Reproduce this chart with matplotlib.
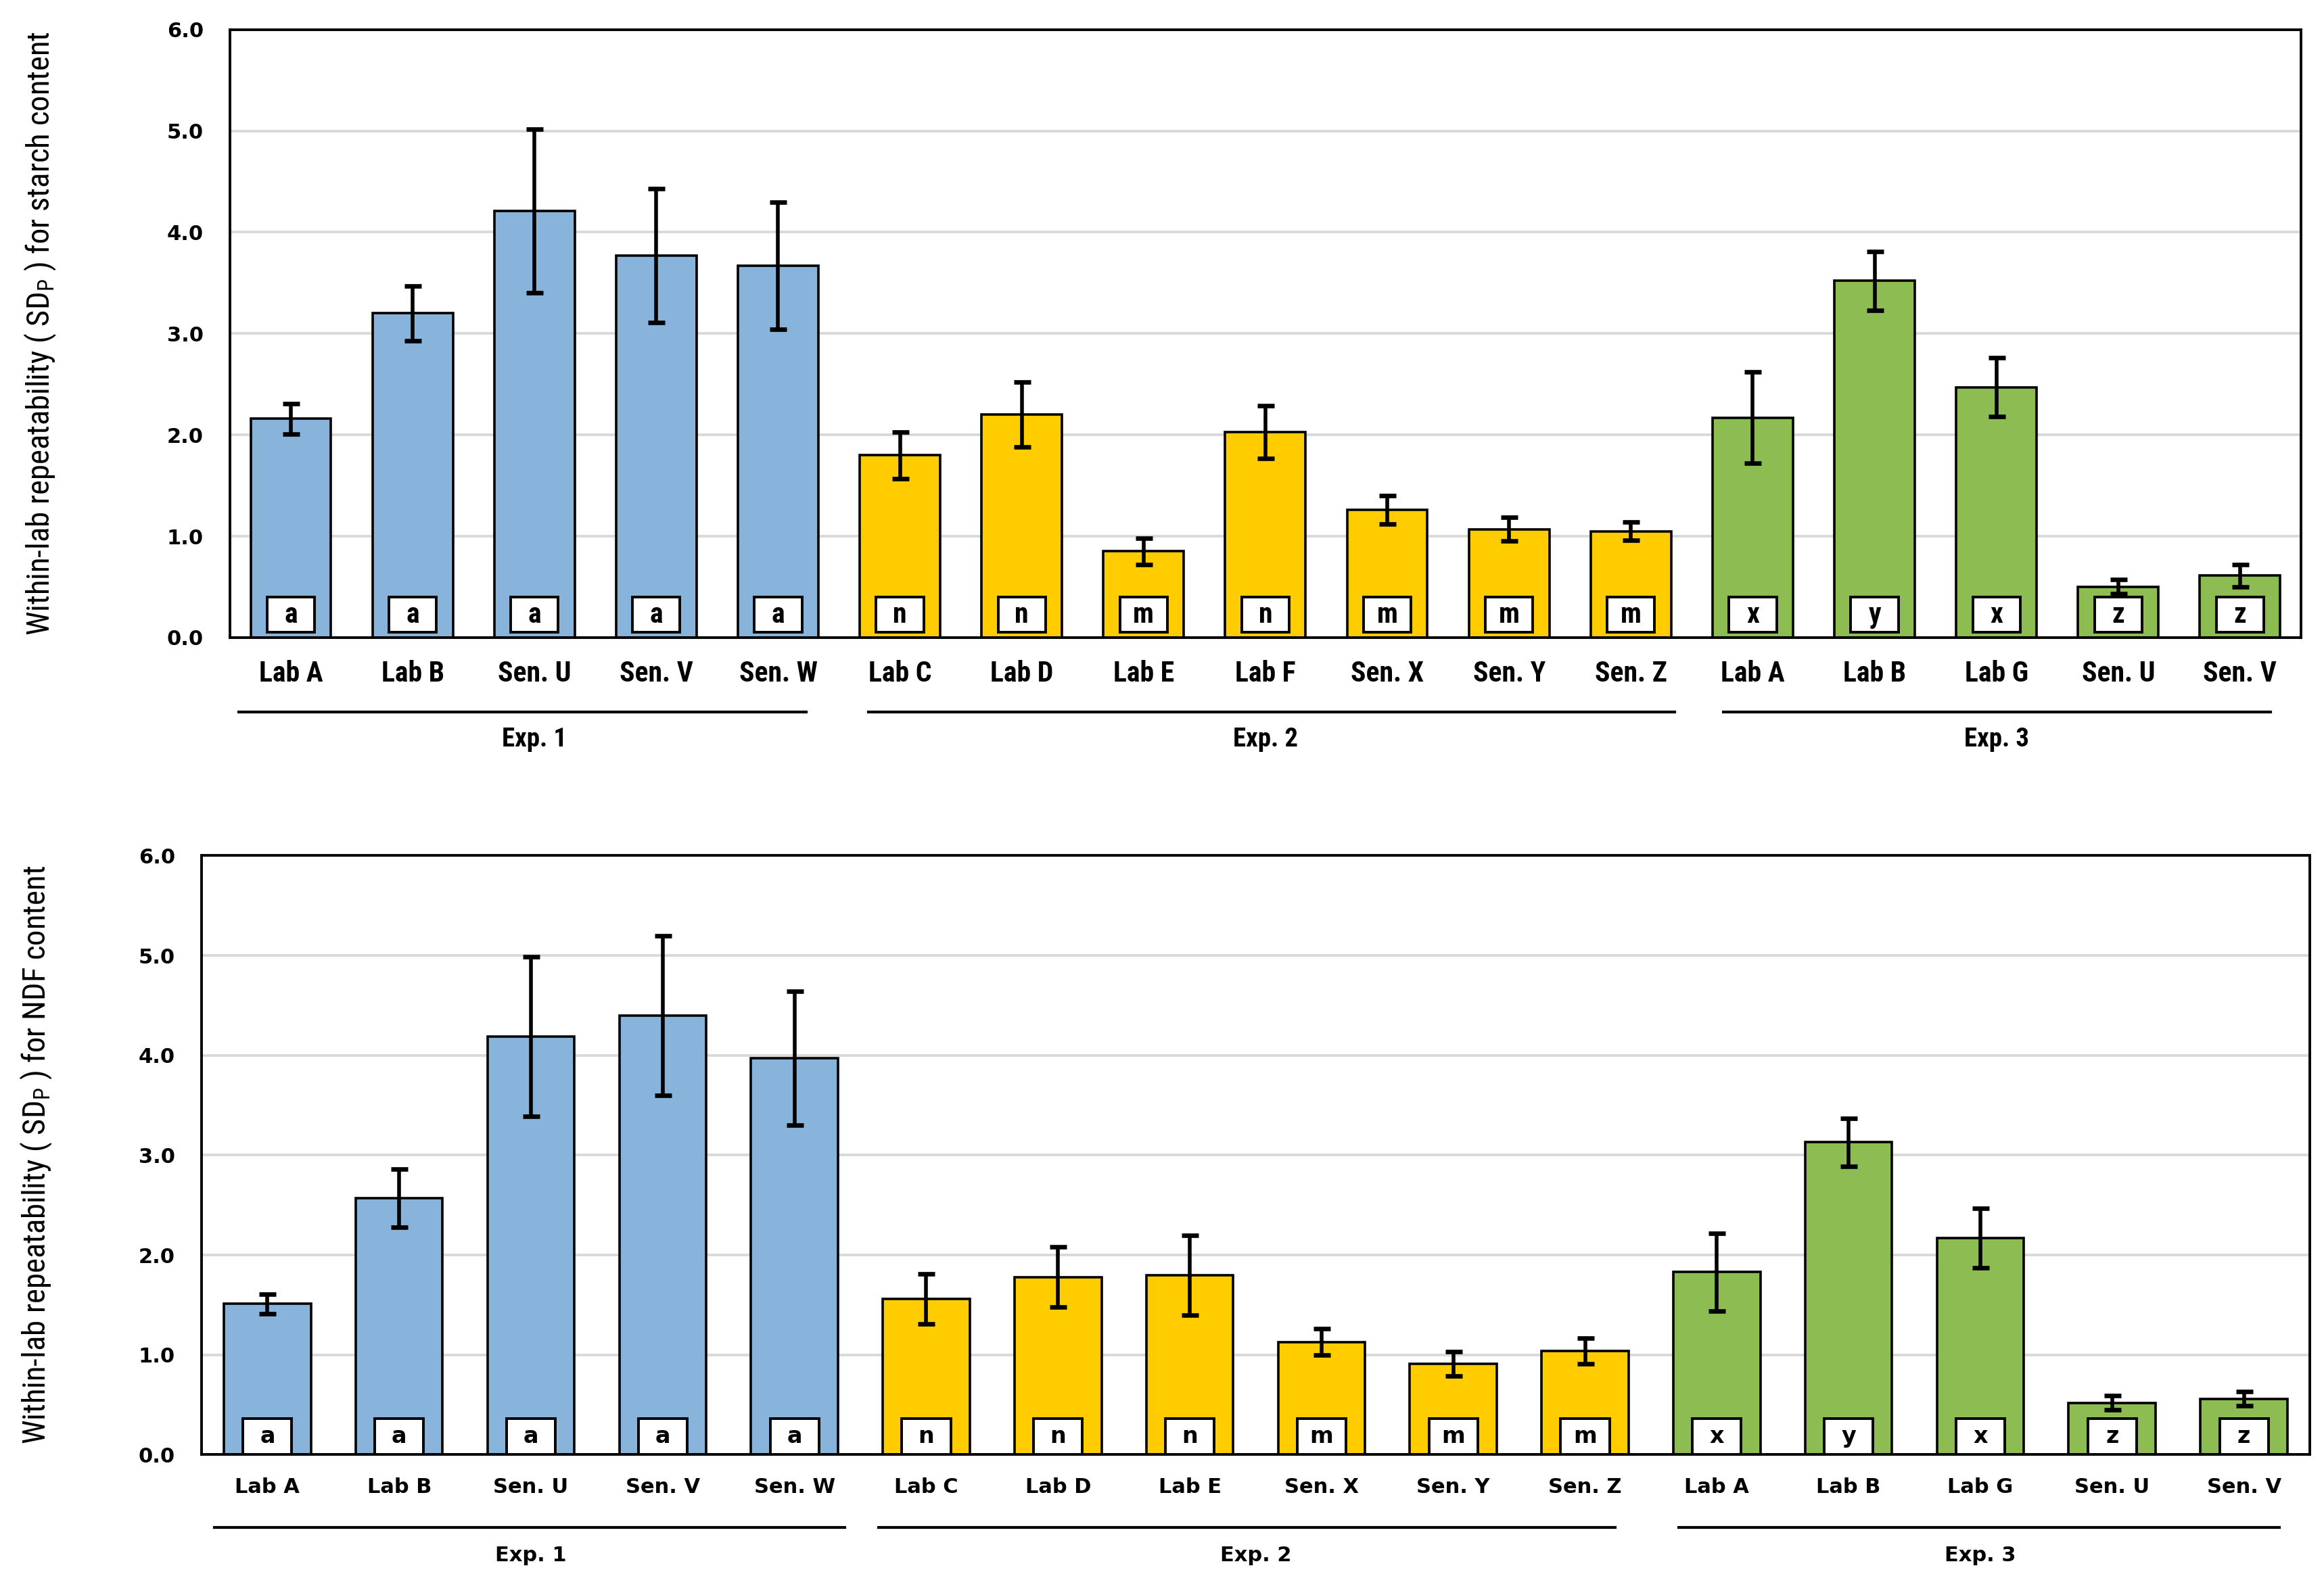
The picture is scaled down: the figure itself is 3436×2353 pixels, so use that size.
import matplotlib
matplotlib.use("Agg")
import matplotlib.pyplot as plt
from matplotlib.patches import Rectangle
import matplotlib.transforms as mtransforms

# ---------------- data ----------------
starch_labels = ["Lab A", "Lab B", "Sen. U", "Sen. V", "Sen. W",
                 "Lab C", "Lab D", "Lab E", "Lab F", "Sen. X", "Sen. Y", "Sen. Z",
                 "Lab A", "Lab B", "Lab G", "Sen. U", "Sen. V"]
starch_values = [2.16, 3.20, 4.21, 3.77, 3.67,
                 1.80, 2.20, 0.85, 2.03, 1.26, 1.07, 1.05,
                 2.17, 3.52, 2.47, 0.50, 0.61]
starch_err = [0.15, 0.27, 0.81, 0.66, 0.63,
              0.23, 0.32, 0.13, 0.26, 0.14, 0.12, 0.09,
              0.45, 0.29, 0.29, 0.07, 0.11]
starch_letters = ["a", "a", "a", "a", "a",
                  "n", "n", "m", "n", "m", "m", "m",
                  "x", "y", "x", "z", "z"]
starch_groups = [0, 0, 0, 0, 0, 1, 1, 1, 1, 1, 1, 1, 2, 2, 2, 2, 2]

ndf_labels = ["Lab A", "Lab B", "Sen. U", "Sen. V", "Sen. W",
              "Lab C", "Lab D", "Lab E", "Sen. X", "Sen. Y", "Sen. Z",
              "Lab A", "Lab B", "Lab G", "Sen. U", "Sen. V"]
ndf_values = [1.51, 2.57, 4.19, 4.40, 3.97,
              1.56, 1.78, 1.80, 1.13, 0.91, 1.04,
              1.83, 3.13, 2.17, 0.52, 0.56]
ndf_err = [0.10, 0.29, 0.80, 0.80, 0.67,
           0.25, 0.30, 0.40, 0.13, 0.12, 0.13,
           0.39, 0.24, 0.30, 0.07, 0.07]
ndf_letters = ["a", "a", "a", "a", "a",
               "n", "n", "n", "m", "m", "m",
               "x", "y", "x", "z", "z"]
ndf_groups = [0, 0, 0, 0, 0, 1, 1, 1, 1, 1, 1, 2, 2, 2, 2, 2]

group_names = ["Exp. 1", "Exp. 2", "Exp. 3"]
yticks = [0.0, 1.0, 2.0, 3.0, 4.0, 5.0, 6.0]

# ---------------- style ----------------
colors = ["#88B3DA", "#FFCC00", "#8DBD52"]
NARROW = ["Liberation Sans Narrow", "Roboto Condensed", "Liberation Sans", "DejaVu Sans"]
WIDE = ["DejaVu Sans"]

fig = plt.figure(figsize=(3437 / 200, 2353 / 200), dpi=200)


def draw_panel(ax, labels, values, errs, letters, groups, ylabel, cat_font,
               cat_size, letter_size, letter_box, spans, bracket_y, exp_y,
               exp_font, exp_size):
    x = list(range(len(labels)))
    bar_colors = [colors[g] for g in groups]
    ax.bar(x, values, width=0.66, color=bar_colors, edgecolor="black",
           linewidth=1.3, zorder=2)
    ax.errorbar(x, values, yerr=errs, fmt="none", ecolor="black",
                elinewidth=2.0, capsize=4.5, capthick=2.4, zorder=3)
    ax.set_xlim(-0.5, len(labels) - 0.5)
    ax.set_ylim(0, 6)
    ax.set_yticks(yticks)
    ax.set_yticklabels([f"{v:.1f}" for v in yticks], fontfamily=WIDE,
                       fontweight="bold", fontsize=11)
    ax.yaxis.grid(True, color="#D9D9D9", linewidth=1.4, zorder=0)
    ax.set_axisbelow(True)
    ax.tick_params(axis="y", length=0, pad=14)
    ax.tick_params(axis="x", length=0, pad=12)
    ax.set_xticks(x)
    ax.set_xticklabels(labels, fontfamily=cat_font, fontweight="bold",
                       fontsize=cat_size)
    for s in ax.spines.values():
        s.set_linewidth(1.4)
        s.set_color("black")
    # letter boxes
    b0, b1, bw = letter_box
    for xi, let in zip(x, letters):
        ax.add_patch(Rectangle((xi - bw / 2, b0), bw, b1 - b0, facecolor="white",
                               edgecolor="black", linewidth=1.4, zorder=4))
        ax.text(xi, (b0 + b1) / 2, let, ha="center", va="center",
                fontfamily=cat_font, fontweight="bold", fontsize=letter_size,
                zorder=5)
    # brackets
    trans = mtransforms.blended_transform_factory(ax.transData, ax.transAxes)
    for gi, (a, b) in enumerate(spans):
        ax.plot([a, b], [bracket_y, bracket_y], color="black", linewidth=1.5,
                transform=trans, clip_on=False)
        members = [xi for xi, g in zip(x, groups) if g == gi]
        cx = (members[0] + members[-1]) / 2
        ax.text(cx, exp_y, group_names[gi], ha="center", va="center",
                transform=trans, fontfamily=exp_font, fontweight="bold",
                fontsize=exp_size)
    ax.set_ylabel(ylabel, fontfamily=NARROW, fontsize=16.8)


ax1 = fig.add_axes([0.0989, 0.5993, 0.9898 - 0.0989, 0.9814 - 0.5993])
draw_panel(ax1, starch_labels, starch_values, starch_err, starch_letters,
           starch_groups,
           "Within-lab repeatability ( SD$_{\\mathregular{P}}$ ) for starch content",
           NARROW, 15, 15, (0.05, 0.40, 0.39),
           [(-0.43, 4.23), (4.74, 11.36), (11.76, 16.25)], -0.122, -0.168,
           NARROW, 14)
ax1.yaxis.set_label_coords(-0.083, 0.5)

ax2 = fig.add_axes([0.0867, 0.0857, 0.9936 - 0.0867, 0.4622 - 0.0857])
draw_panel(ax2, ndf_labels, ndf_values, ndf_err, ndf_letters, ndf_groups,
           "Within-lab repeatability ( SD$_{\\mathregular{P}}$ ) for NDF content",
           WIDE, 11, 12, (0.0, 0.36, 0.37),
           [(-0.40, 4.38), (4.64, 10.23), (10.71, 15.27)], -0.121, -0.168,
           WIDE, 11)
ax2.yaxis.set_label_coords(-0.07, 0.5)

fig.savefig("out.png", dpi=200)
